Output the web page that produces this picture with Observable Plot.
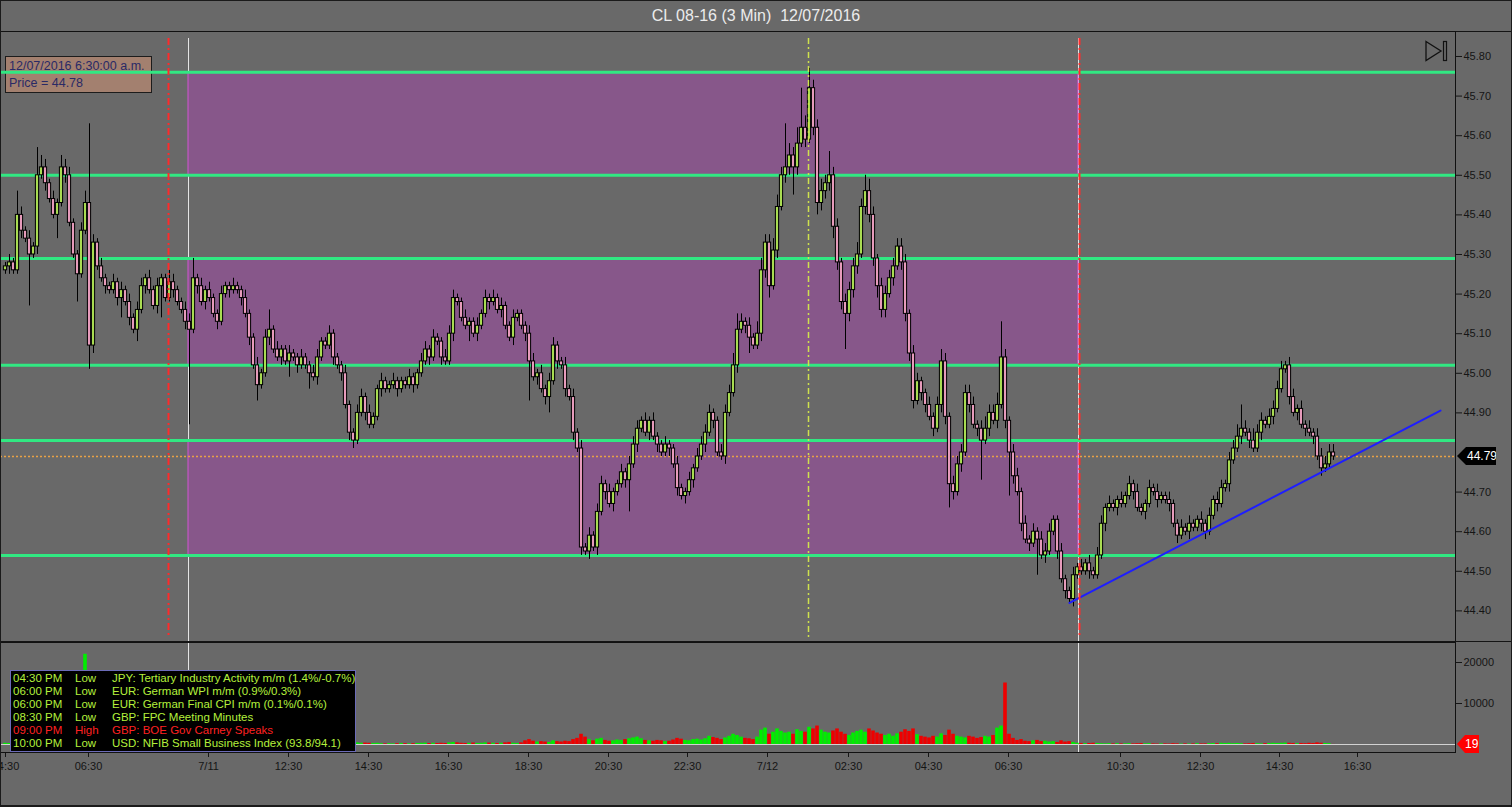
<!DOCTYPE html>
<html lang="en">
<head>
<meta charset="UTF-8">
<title>CL 08-16 (3 Min) 12/07/2016</title>
<script src="https://cdn.jsdelivr.net/npm/d3@7"></script>
<script src="https://cdn.jsdelivr.net/npm/@observablehq/plot@0.6"></script>
<style>
  body { margin: 0; background: #696969; font-family: "Liberation Sans", sans-serif; }
  #chart { position: relative; width: 1512px; height: 807px; overflow: hidden; background: #696969; }
  #title { position: absolute; left: 0; top: 0; width: 1512px; height: 32px; line-height: 31px; text-align: center;
           color: #ececec; font-size: 16px; white-space: pre; border-bottom: 1px solid #141414; box-sizing: border-box; }
  #infoBox { position: absolute; left: 5px; top: 56px; width: 147px; height: 37px; box-sizing: border-box;
             background: #a3806f; border: 1px solid #1c1c1c; color: #2a2a66; font-size: 12.5px; line-height: 17px; padding: 1px 0 0 3px; }
  #pricePanel { position: absolute; left: 0; top: 31px; }
  #volumePanel { position: absolute; left: 0; top: 642px; }
  #sep { position: absolute; left: 0; top: 641px; width: 1512px; height: 1px; background: #141414; }
  #endIcon { position: absolute; left: 1424px; top: 40px; }
  .tag { position: absolute; color: #fff; font-size: 12px; height: 18px; line-height: 18px; box-sizing: border-box; }
  #lastTag { left: 1457px; width: 39px; padding-left: 10px; background: #000; clip-path: polygon(0 50%, 9px 0, 100% 0, 100% 100%, 9px 100%); }
  #volTag { left: 1457px; width: 22px; padding-left: 8px; background: #f00; clip-path: polygon(0 50%, 8px 0, 100% 0, 100% 100%, 8px 100%); }
  #news { position: absolute; left: 10px; top: 670px; width: 346px; height: 82px; background: #000; border: 1px solid #6b6bb8;
          box-sizing: border-box; font-size: 11.5px; line-height: 13px; padding-top: 1px; }
  #news div { position: relative; height: 13px; white-space: pre; }
  #news span { position: absolute; top: 0; }
  #border { position: absolute; left: 0; top: 0; width: 1512px; height: 807px; box-sizing: border-box; border: 1px solid #1a1a1a; border-bottom-width: 2px; pointer-events: none; }
</style>
</head>
<body>
<div id="chart">
  <div id="title">CL 08-16 (3 Min)  12/07/2016</div>
  <div id="infoBox">12/07/2016 6:30:00 a.m.<br>Price = 44.78</div>
  <div id="pricePanel"></div>
  <div id="sep"></div>
  <div id="volumePanel"></div>
  <svg id="endIcon" width="26" height="24">
    <polygon points="2,1.5 17,11 2,20.5" fill="none" stroke="#111" stroke-width="1.3"></polygon>
    <rect x="19.5" y="1.5" width="3" height="19" fill="none" stroke="#111" stroke-width="1.2"></rect>
  </svg>
  <div id="lastTag" class="tag">44.79</div>
  <div id="volTag" class="tag">19</div>
  <div id="news"></div>
  <div id="border"></div>
</div>

<script>
// closing prices, one candle per 6 px of the original 3-min chart
const firstOpen = 45.26;
const closes = [
  45.27,45.28,45.26,45.40,45.36,45.34,45.30,45.32,45.50,45.52,
  45.48,45.44,45.40,45.43,45.52,45.50,45.38,45.30,45.25,45.36,
  45.43,45.07,45.33,45.27,45.24,45.22,45.21,45.23,45.19,45.21,
  45.18,45.14,45.11,45.16,45.22,45.24,45.21,45.17,45.22,45.24,
  45.19,45.23,45.21,45.18,45.16,45.13,45.11,45.24,45.22,45.18,
  45.21,45.19,45.15,45.13,45.20,45.22,45.21,45.22,45.21,45.19,
  45.15,45.09,45.02,44.97,45.00,45.09,45.11,45.06,45.04,45.06,
  45.03,45.05,45.04,45.02,45.04,45.02,45.00,44.99,45.04,45.08,
  45.07,45.10,45.04,45.02,45.00,44.92,44.85,44.83,44.90,44.94,
  44.90,44.87,44.89,44.96,44.98,44.96,44.97,44.98,44.96,44.98,
  44.97,44.99,44.97,45.00,45.03,45.06,45.04,45.09,45.08,45.04,
  45.03,45.10,45.19,45.18,45.14,45.12,45.13,45.10,45.12,45.15,
  45.19,45.18,45.19,45.16,45.17,45.12,45.09,45.14,45.15,45.12,
  45.10,45.03,44.99,45.00,44.96,44.94,44.98,45.07,45.03,45.02,
  44.96,44.94,44.85,44.81,44.56,44.55,44.59,44.56,44.65,44.72,
  44.70,44.67,44.70,44.72,44.75,44.73,44.77,44.82,44.86,44.88,
  44.85,44.88,44.84,44.82,44.80,44.82,44.81,44.77,44.71,44.69,
  44.70,44.73,44.76,44.79,44.82,44.85,44.90,44.88,44.80,44.79,
  44.90,44.95,45.02,45.11,45.13,45.12,45.09,45.07,45.10,45.26,
  45.33,45.22,45.31,45.42,45.50,45.52,45.55,45.52,45.58,45.62,
  45.59,45.72,45.62,45.43,45.46,45.48,45.50,45.37,45.28,45.18,
  45.15,45.21,45.27,45.30,45.42,45.46,45.40,45.29,45.22,45.16,
  45.20,45.24,45.27,45.32,45.28,45.15,45.05,44.93,44.98,44.95,
  44.92,44.89,44.86,44.92,45.03,44.89,44.72,44.70,44.77,44.80,
  44.95,44.92,44.87,44.86,44.83,44.86,44.90,44.88,44.92,45.04,
  44.88,44.80,44.74,44.70,44.62,44.58,44.57,44.60,44.58,44.54,
  44.55,44.60,44.63,44.55,44.48,44.45,44.43,44.49,44.51,44.50,
  44.52,44.50,44.49,44.54,44.62,44.66,44.67,44.66,44.68,44.67,
  44.69,44.72,44.70,44.66,44.65,44.67,44.71,44.70,44.68,44.69,
  44.68,44.67,44.62,44.59,44.61,44.60,44.62,44.61,44.63,44.62,
  44.60,44.64,44.68,44.67,44.71,44.72,44.78,44.81,44.84,44.86,
  44.85,44.83,44.81,44.85,44.88,44.87,44.89,44.91,44.96,45.01,
  45.02,44.94,44.90,44.91,44.87,44.86,44.85,44.84,44.79,44.76,
  44.77,44.80,44.79
];
// wick length above the body, in cents
const upperWick = [
  1,2,1,6,2,1,2,1,7,3, 2,1,2,1,3,2,2,1,1,2, 3,20,2,1,2,1,1,2,1,2, 1,2,1,2,2,1,2,1,2,1,
  1,3,2,1,1,2,2,5,1,2, 1,2,1,1,2,1,1,2,1,1, 2,1,1,2,1,2,5,1,2,1, 1,2,1,1,2,1,1,2,2,1,
  1,2,1,1,1,2,1,1,2,2, 1,2,1,1,2,1,1,2,1,1, 1,2,1,1,2,2,1,2,1,1, 2,2,2,1,1,2,1,1,2,1,
  2,1,2,1,2,1,1,2,1,1, 1,2,2,1,2,1,2,2,1,1, 2,1,2,1,2,1,2,1,2,2, 1,2,1,1,2,1,2,2,2,1,
  2,1,2,1,1,2,1,1,2,1, 1,2,1,2,2,2,2,1,1,2, 2,2,3,4,2,1,2,1,3,3, 2,2,3,3,2,11,3,2,4,10,
  3,5,2,2,3,2,6,2,2,1, 2,2,2,3,2,4,3,2,1,2, 2,2,2,2,2,2,1,2,2,1, 1,2,1,2,3,2,1,2,2,2,
  2,2,2,1,2,3,2,2,3,9, 2,1,2,2,1,2,1,2,1,2, 2,2,1,1,2,1,1,2,1,2, 1,2,1,2,2,1,2,1,1,2,
  1,2,1,2,1,1,2,1,2,1, 1,2,1,1,2,1,2,1,1,2, 1,2,1,2,2,1,2,2,3,6, 2,1,3,2,2,1,2,2,2,2,
  1,2,2,1,2,1,2,1,2,2, 2,2,2
];
// wick length below the body, in cents
const lowerWick = [
  1,2,1,1,2,1,13,1,2,1, 2,1,1,6,1,2,1,1,7,1, 1,6,2,1,1,2,1,1,2,5, 1,2,1,3,1,2,1,1,2,8,
  1,1,2,1,1,2,24,1,2,1, 2,1,1,2,1,1,2,1,1,2, 1,2,1,4,1,1,2,1,1,2, 1,4,1,2,1,1,4,1,2,1,
  1,1,2,1,2,1,2,2,1,1, 2,1,1,1,2,1,1,1,2,1, 1,1,2,1,1,1,2,1,1,2, 1,1,2,1,1,1,4,1,2,1,
  1,2,1,1,2,1,1,2,1,1, 2,10,1,2,1,2,4,1,2,1, 2,1,2,1,2,1,2,1,2,1, 2,1,2,1,1,2,8,1,2,1,
  1,2,1,2,1,1,2,1,2,1, 2,1,2,1,1,2,1,2,1,1, 2,1,1,2,1,2,4,1,1,2, 2,3,1,2,1,2,2,7,2,1,
  2,1,2,3,2,2,2,3,2,2, 9,2,2,2,1,2,2,2,3,2, 2,1,2,1,2,2,2,2,1,2, 2,1,2,1,2,2,6,2,1,2,
  1,2,1,2,10,1,2,1,2,1, 2,11,2,1,2,1,2,1,9,1, 2,1,1,2,1,2,1,2,1,1, 1,2,1,1,1,2,1,1,2,1,
  1,1,2,1,1,2,1,1,2,1, 1,2,1,2,1,1,2,1,1,2, 2,1,1,2,1,1,2,1,1,2, 1,2,1,1,2,1,1,2,1,1,
  1,2,1,2,1,2,1,2,1,2, 1,1,1
];
const volumes = [
  300,250,200,400,300,250,300,200,450,400, 350,300,250,300,400,350,300,400,500,350,
  22000,600,600,400,300,250,200,250,300,200, 250,300,350,250,300,200,250,200,250,300,
  200,250,200,250,300,350,400,500,300,250, 200,250,300,200,250,200,150,200,250,200,
  300,400,500,450,350,300,250,300,250,200, 200,250,200,150,200,250,300,250,300,350,
  250,200,250,300,350,500,600,500,400,300, 350,300,250,300,200,150,200,150,200,250,
  200,150,200,250,300,350,250,300,250,300, 250,400,500,400,300,250,300,350,250,300,
  400,350,300,250,300,400,500,300,250,400, 900,1200,800,600,700,600,500,900,700,600,
  800,700,1200,1500,2500,1800,1200,900,1300,1500, 1000,800,900,1100,1000,1200,1400,1600,1800,1400,
  1000,900,800,1000,900,700,800,1100,1500,1300, 1000,900,1200,1300,1100,1400,2000,1700,1500,1200,
  1600,2000,2500,2200,1800,1500,1400,1200,1800,3500, 4000,2500,3000,3800,3200,2800,3000,2500,3600,3200,
  3000,4200,3800,4500,3500,3000,2800,3300,3800,3000, 2500,2200,2800,3200,3500,3000,3800,3300,2800,2500,
  2200,2500,2000,2600,3000,3600,3200,3800,2400,2000, 1800,1600,2000,1800,2600,2200,3500,2500,2000,1800,
  1600,2000,1800,1500,1700,2000,1800,2200,4000,4500, 15000,2500,1500,1000,1200,800,700,900,1000,700,
  800,600,700,500,900,600,700,500,300,250, 200,250,300,250,200,150,200,150,200,150,
  150,200,150,200,250,150,200,150,100,150, 150,100,200,150,100,150,100,150,200,150,
  150,200,250,200,300,250,300,200,250,200, 150,200,250,200,150,200,250,300,250,300,
  350,300,250,200,250,200,300,250,400,300, 250,200,19
];

// time axis: candle slot of each labelled tick
const tickSlots  = [0, 20.75, 50.75, 70.75, 90.75, 110.75, 130.75, 150.75, 170.5, 190.5, 210.75, 230.75, 250.75, 278.75, 298.75, 318.5, 338];
const tickLabels = ["04:30","06:30","7/11","12:30","14:30","16:30","18:30","20:30","22:30","7/12","02:30","04:30","06:30","10:30","12:30","14:30","16:30"];
// 44.80 sits under the last-price tag, as in the original
const priceTicks = [44.4, 44.5, 44.6, 44.7, 44.9, 45.0, 45.1, 45.2, 45.3, 45.4, 45.5, 45.6, 45.7, 45.8];
const volumeTicks = [10000, 20000];

// drawings on the chart
const levels = [45.76, 45.50, 45.29, 45.02, 44.83, 44.54];
const zones = [{low: 45.50, high: 45.76}, {low: 45.02, high: 45.29}, {low: 44.54, high: 44.83}];
const zoneStart = 45.75, zoneEnd = 268.25;
const redMarkers = [40.75, 268.5];
const dayMarker = 200.75;
const lastPrice = 44.79;
const lastVolume = 19;
const trendLine = [{slot: 266, price: 44.42}, {slot: 358.75, price: 44.906}];

const newsRows = [
  {time: "04:30 PM", impact: "Low",  event: "JPY: Tertiary Industry Activity m/m (1.4%/-0.7%)", color: "#b4f03c"},
  {time: "06:00 PM", impact: "Low",  event: "EUR: German WPI m/m (0.9%/0.3%)", color: "#b4f03c"},
  {time: "06:00 PM", impact: "Low",  event: "EUR: German Final CPI m/m (0.1%/0.1%)", color: "#b4f03c"},
  {time: "08:30 PM", impact: "Low",  event: "GBP: FPC Meeting Minutes", color: "#b4f03c"},
  {time: "09:00 PM", impact: "High", event: "GBP: BOE Gov Carney Speaks", color: "#ff2020"},
  {time: "10:00 PM", impact: "Low",  event: "USD: NFIB Small Business Index (93.8/94.1)", color: "#b4f03c"}
];

const upFill = "#a9dc52", downFill = "#e79bbb";
const candles = closes.map((c, i) => {
  const o = i === 0 ? firstOpen : closes[i - 1];
  return {
    slot: i, open: o, close: c,
    high: Math.max(o, c) + upperWick[i] / 100,
    low: Math.min(o, c) - lowerWick[i] / 100,
    volume: volumes[i]
  };
});

const xDomain = [-1.25, 362.5];
const baseStyle = {background: "transparent", color: "#151515", fontFamily: "Liberation Sans, sans-serif", fontSize: "11px", overflow: "hidden"};

const pricePlot = Plot.plot({
  width: 1512, height: 610,
  marginTop: 0, marginBottom: 0, marginLeft: 0, marginRight: 57,
  style: baseStyle,
  color: {type: "identity"},
  x: {domain: xDomain, axis: null},
  y: {domain: [44.3227, 45.8631], axis: "right", ticks: priceTicks, tickFormat: d3.format(".2f"), tickSize: 6, tickPadding: 2, label: null},
  marks: [
    Plot.ruleX([zoneStart, zoneEnd], {stroke: "#e4e4e4", insetTop: 7}),
    Plot.rect(zones, {x1: () => zoneStart, x2: () => zoneEnd, y1: "low", y2: "high", fill: "#87578a", stroke: "#d455d4", strokeWidth: 1}),
    Plot.ruleY(levels, {stroke: "#31e882", strokeWidth: 3}),
    Plot.ruleY([lastPrice], {stroke: "#e9a246", strokeWidth: 1.5, strokeDasharray: "2,2"}),
    Plot.ruleX(candles, {x: "slot", y1: "low", y2: "high", stroke: "#000", strokeWidth: 1}),
    Plot.rect(candles, {
      x1: d => d.slot - 0.4, x2: d => d.slot + 0.4, y1: "open", y2: "close",
      fill: d => d.close >= d.open ? upFill : downFill, stroke: "#000", strokeWidth: 1
    }),
    Plot.line(trendLine, {x: "slot", y: "price", stroke: "#1e1eff", strokeWidth: 2}),
    Plot.ruleX(redMarkers, {stroke: "#ff2b2b", strokeWidth: 2, strokeDasharray: "7,3,2,3", insetTop: 7, insetBottom: 4}),
    Plot.ruleX([dayMarker], {stroke: "#cfe24c", strokeWidth: 1.5, strokeDasharray: "6,3,2,3", insetTop: 7, insetBottom: 4}),
    Plot.frame({stroke: "#111"})
  ]
});
document.querySelector("#pricePanel").append(pricePlot);

const labelBySlot = new Map(tickSlots.map((s, i) => [s, tickLabels[i]]));

const volumePlot = Plot.plot({
  width: 1512, height: 165,
  marginTop: 0, marginBottom: 55, marginLeft: 0, marginRight: 57,
  style: baseStyle,
  color: {type: "identity"},
  x: {domain: xDomain, ticks: tickSlots, tickFormat: d => labelBySlot.get(d), tickSize: 5, tickPadding: 5, label: null},
  y: {domain: [-1951, 24878], axis: "right", ticks: volumeTicks, tickFormat: d3.format("d"), tickSize: 6, tickPadding: 2, label: null},
  marks: [
    Plot.ruleX([zoneStart, zoneEnd], {stroke: "#e4e4e4"}),
    Plot.rect(candles, {
      x1: d => d.slot - 0.45, x2: d => d.slot + 0.45, y1: () => 0, y2: "volume",
      fill: d => d.close >= d.open ? "#00ee00" : "#ee0000"
    }),
    Plot.ruleY([0], {stroke: "#d2d2d2"}),
    Plot.frame({stroke: "#111"})
  ]
});
document.querySelector("#volumePanel").append(volumePlot);

// price / volume tags placed with the plots' own scales
const lastTag = document.querySelector("#lastTag");
lastTag.style.top = (31 + pricePlot.scale("y").apply(lastPrice) - 9) + "px";
const volTag = document.querySelector("#volTag");
volTag.style.top = (642 + volumePlot.scale("y").apply(lastVolume) - 9) + "px";

// economic calendar box
const news = document.querySelector("#news");
for (const r of newsRows) {
  const row = document.createElement("div");
  row.style.color = r.color;
  row.innerHTML = `<span style="left:2px">${r.time}</span><span style="left:64px">${r.impact}</span><span style="left:101px">${r.event}</span>`;
  news.append(row);
}
</script>
</body>
</html>
